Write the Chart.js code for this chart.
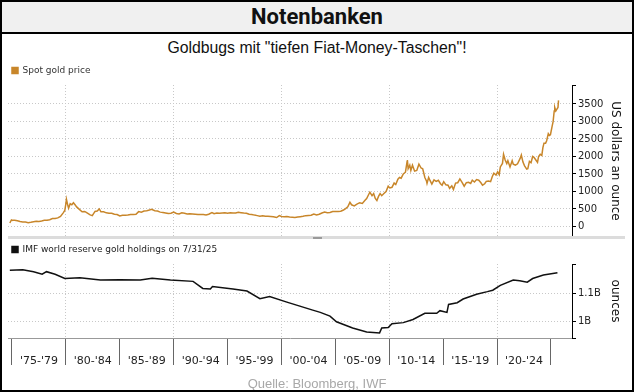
<!DOCTYPE html>
<html>
<head>
<meta charset="utf-8">
<script src="https://cdn.jsdelivr.net/npm/chart.js@4/dist/chart.umd.min.js"></script>
<style>
  html, body { margin: 0; padding: 0; background: #fff; }
  #wrap { position: relative; width: 634px; height: 392px; overflow: hidden; background: #fff; }
  #frame { position: absolute; left: 0; top: 0; width: 634px; height: 392px; box-sizing: border-box; border: 2px solid #000; pointer-events: none; z-index: 10; }
  #titlebar { position: absolute; left: 0; top: 0; width: 634px; height: 34px; box-sizing: border-box; background: #f0f0f0; border-bottom: 2px solid #000; text-align: center; font: bold 22px Roboto, "Liberation Sans", sans-serif; line-height: 33px; color: #111; }
  #subtitle { position: absolute; left: 0; top: 39px; width: 634px; text-align: center; font: 15.8px "Liberation Sans", Arial, sans-serif; color: #111; line-height: 18px; }
  #c1 { position: absolute; left: 0; top: 62px; }
  #c2 { position: absolute; left: 0; top: 241px; }
  #sep { position: absolute; left: 8px; top: 236px; width: 617px; height: 3px; background: #dcdcdc; }
  #handle { position: absolute; left: 313px; top: 237px; width: 9px; height: 2px; background: #9a9a9a; }
  #footer { position: absolute; left: 0; top: 376px; width: 634px; text-align: center; font: 13px "Liberation Sans", Arial, sans-serif; color: #a8a8a8; line-height: 16px; }
</style>
</head>
<body>
<div id="wrap">
  <div id="titlebar">Notenbanken</div>
  <div id="subtitle">Goldbugs mit "tiefen Fiat-Money-Taschen"!</div>
  <canvas id="c1" width="634" height="176"></canvas>
  <div id="sep"></div><div id="handle"></div>
  <canvas id="c2" width="634" height="131"></canvas>
  <div id="footer">Quelle: Bloomberg, IWF</div>
  <div id="frame"></div>
</div>
<script>
// ---------- data ----------
const goldYears = [
  1974.8, 1974.95, 1975.0, 1975.25, 1975.5, 1975.75, 1976.0, 1976.25, 1976.5, 1976.75,
  1977.0, 1977.25, 1977.5, 1977.75, 1978.0, 1978.25, 1978.5, 1978.75, 1979.0, 1979.25,
  1979.5, 1979.75, 1979.9, 1980.0, 1980.05, 1980.15, 1980.25, 1980.4, 1980.55, 1980.7,
  1980.85, 1981.0, 1981.25, 1981.5, 1981.75, 1982.0, 1982.25, 1982.45, 1982.7, 1982.9,
  1983.1, 1983.25, 1983.5, 1983.75, 1984.0, 1984.25, 1984.5, 1984.75, 1985.0, 1985.25,
  1985.5, 1985.75, 1986.0, 1986.25, 1986.5, 1986.75, 1987.0, 1987.25, 1987.5, 1987.75,
  1987.95, 1988.25, 1988.5, 1988.75, 1989.0, 1989.25, 1989.5, 1989.75, 1990.0, 1990.25,
  1990.5, 1990.75, 1991.0, 1991.25, 1991.5, 1991.75, 1992.0, 1992.25, 1992.5, 1992.75,
  1993.0, 1993.25, 1993.55, 1993.75, 1994.0, 1994.25, 1994.5, 1994.75, 1995.0, 1995.25,
  1995.5, 1995.75, 1996.0, 1996.25, 1996.5, 1996.75, 1997.0, 1997.25, 1997.5, 1997.75,
  1998.0, 1998.25, 1998.5, 1998.75, 1999.0, 1999.25, 1999.55, 1999.8, 2000.0, 2000.25,
  2000.5, 2000.75, 2001.0, 2001.25, 2001.5, 2001.75, 2002.0, 2002.25, 2002.5, 2002.75,
  2003.0, 2003.25, 2003.5, 2003.75, 2004.0, 2004.25, 2004.5, 2004.75, 2005.0, 2005.25,
  2005.5, 2005.75, 2005.95, 2006.15, 2006.35, 2006.5, 2006.75, 2007.0, 2007.25, 2007.5,
  2007.75, 2007.9, 2008.1, 2008.2, 2008.4, 2008.55, 2008.7, 2008.85, 2009.0, 2009.15,
  2009.3, 2009.5, 2009.7, 2009.9, 2010.05, 2010.25, 2010.45, 2010.6, 2010.8, 2010.95,
  2011.1, 2011.3, 2011.5, 2011.65, 2011.68, 2011.75, 2011.9, 2012.0, 2012.15, 2012.35,
  2012.55, 2012.75, 2012.95, 2013.1, 2013.3, 2013.45, 2013.5, 2013.65, 2013.8, 2013.95,
  2014.15, 2014.35, 2014.55, 2014.75, 2014.9, 2015.05, 2015.25, 2015.45, 2015.6, 2015.8,
  2015.95, 2016.15, 2016.35, 2016.55, 2016.75, 2016.95, 2017.15, 2017.35, 2017.55, 2017.7,
  2017.9, 2018.1, 2018.3, 2018.5, 2018.65, 2018.85, 2019.0, 2019.2, 2019.4, 2019.55,
  2019.7, 2019.9, 2020.05, 2020.2, 2020.3, 2020.5, 2020.6, 2020.75, 2020.9, 2021.0,
  2021.2, 2021.4, 2021.5, 2021.7, 2021.9, 2022.15, 2022.25, 2022.4, 2022.55, 2022.75,
  2022.85, 2023.0, 2023.15, 2023.3, 2023.4, 2023.55, 2023.75, 2023.85, 2024.0, 2024.15,
  2024.25, 2024.35, 2024.5, 2024.6, 2024.75, 2024.85, 2024.95, 2025.1, 2025.2, 2025.3,
  2025.35, 2025.45, 2025.55, 2025.65, 2025.7
];
const goldPrice = [
  100, 185, 180, 177, 166, 142, 131, 128, 110, 120,
  134, 148, 143, 158, 175, 180, 195, 225, 230, 245,
  290, 390, 460, 650, 780, 640, 520, 650, 620, 680,
  620, 560, 490, 420, 430, 380, 330, 310, 430, 440,
  500, 420, 420, 390, 380, 380, 350, 340, 300, 320,
  320, 325, 340, 340, 350, 425, 410, 440, 450, 470,
  490, 450, 440, 410, 400, 385, 370, 380, 410, 370,
  360, 390, 380, 360, 365, 360, 350, 340, 345, 340,
  330, 350, 400, 365, 385, 380, 385, 390, 380, 390,
  385, 385, 405, 395, 385, 380, 350, 345, 325, 310,
  295, 305, 290, 295, 288, 280, 256, 310, 285, 280,
  285, 270, 265, 260, 270, 280, 290, 310, 315, 320,
  355, 330, 350, 385, 410, 390, 400, 430, 425, 430,
  435, 470, 510, 560, 690, 620, 590, 640, 680, 660,
  750, 800, 920, 980, 880, 940, 800, 740, 860, 940,
  880, 940, 1000, 1150, 1100, 1120, 1240, 1200, 1350, 1400,
  1380, 1500, 1550, 1850, 1900, 1650, 1750, 1600, 1750, 1580,
  1600, 1780, 1670, 1650, 1400, 1300, 1230, 1400, 1300, 1210,
  1330, 1290, 1320, 1220, 1180, 1280, 1190, 1180, 1090, 1160,
  1060, 1240, 1250, 1360, 1260, 1150, 1250, 1260, 1230, 1320,
  1270, 1340, 1320, 1250, 1180, 1220, 1290, 1300, 1280, 1420,
  1520, 1470, 1560, 1480, 1700, 1800, 2060, 1900, 1800, 1880,
  1700, 1880, 1780, 1750, 1790, 1950, 2040, 1840, 1730, 1640,
  1650, 1860, 1820, 2000, 1980, 1920, 1830, 2000, 2060, 2030,
  2250, 2380, 2380, 2450, 2650, 2600, 2620, 2850, 3000, 3300,
  3400, 3300, 3350, 3400, 3600
];
const imfYears = [
  1974.8, 1976.0, 1977.0, 1977.8, 1978.2, 1979.0, 1979.9, 1981.3, 1983.2, 1985.0,
  1986.9, 1988.0, 1989.7, 1991.8, 1992.7, 1993.4, 1993.6, 1995.5, 1996.8, 1998.0,
  1998.9, 2000.5, 2002.9, 2003.6, 2004.5, 2005.1, 2006.6, 2007.9, 2009.1, 2009.3,
  2009.9, 2010.25, 2011.3, 2012.2, 2013.3, 2014.4, 2014.7, 2015.35, 2015.5, 2016.3,
  2016.85, 2018.1, 2019.1, 2019.6, 2020.3, 2021.5, 2022.1, 2022.8, 2023.3, 2024.3,
  2025.6
];
const imfOunces = [
  1.181, 1.183, 1.176, 1.167, 1.176, 1.167, 1.152, 1.155, 1.147, 1.148,
  1.147, 1.153, 1.147, 1.142, 1.117, 1.115, 1.124, 1.115, 1.108, 1.081,
  1.089, 1.069, 1.041, 1.033, 1.020, 1.000, 0.978, 0.964, 0.961, 0.978,
  0.980, 0.993, 0.997, 1.008, 1.030, 1.030, 1.039, 1.033, 1.061, 1.067,
  1.080, 1.097, 1.106, 1.111, 1.128, 1.147, 1.144, 1.139, 1.152, 1.164,
  1.172
];
const priceTicks = [0, 500, 1000, 1500, 2000, 2500, 3000, 3500];
const ounceTicks = [1.0, 1.1];
const ounceTickLabels = ['1B', '1.1B'];
const periodStarts = [1975, 1980, 1985, 1990, 1995, 2000, 2005, 2010, 2015, 2020, 2025];
const periodLabels = ["'75-'79", "'80-'84", "'85-'89", "'90-'94", "'95-'99", "'00-'04", "'05-'09", "'10-'14", "'15-'19", "'20-'24"];
const decadeLines = [1980, 1990, 2000, 2010, 2020];

// ---------- config ----------
const X_MIN = 1974.63, X_MAX = 2026.95;
const P_MIN = -300, P_MAX = 4040;
const O_MIN = 0.943, O_MAX = 1.203;
const GOLD = '#c8862a';
const GRID = '#c8c8c8';
const FONT = 'DejaVu Sans';
const CLEAR = 'rgba(0,0,0,0)';

Chart.defaults.font.family = FONT;

function noPad(s) { s.paddingTop = 0; s.paddingBottom = 0; s.paddingLeft = 0; s.paddingRight = 0; }

new Chart(document.getElementById('c1'), {
  type: 'line',
  data: {
    datasets: [{
      label: 'Spot gold price',
      data: goldYears.map((x, i) => ({ x, y: goldPrice[i] })),
      borderColor: GOLD, backgroundColor: GOLD,
      borderWidth: 1.5, pointRadius: 0, tension: 0
    }]
  },
  options: {
    animation: false, responsive: false, maintainAspectRatio: false,
    layout: { padding: { left: 8, right: 0, top: 0, bottom: 1 } },
    plugins: {
      legend: { position: 'top', align: 'start',
        labels: { boxWidth: 6, boxHeight: 6, padding: 4, color: '#333', font: { family: FONT, size: 9 } } },
      tooltip: { enabled: false }
    },
    scales: {
      x: {
        type: 'linear', min: X_MIN, max: X_MAX,
        afterBuildTicks: s => { s.ticks = decadeLines.map(v => ({ value: v })); },
        ticks: { display: false },
        grid: { color: GRID, drawTicks: false },
        border: { display: false, dash: [1, 2] },
        afterFit: s => { s.height = 0; noPad(s); }
      },
      y: {
        position: 'right', min: P_MIN, max: P_MAX,
        afterBuildTicks: s => { s.ticks = [P_MIN, ...priceTicks, P_MAX].map(v => ({ value: v })); },
        ticks: {
          padding: 2, color: '#222', font: { family: FONT, size: 10 },
          callback: v => priceTicks.includes(v) ? String(v) : ''
        },
        grid: {
          color: c => (c.tick && priceTicks.includes(c.tick.value)) ? GRID : CLEAR,
          tickColor: '#000', tickLength: 4, tickBorderDash: []
        },
        border: { display: true, color: '#000', dash: [1, 2] },
        title: { display: true, text: 'US dollars an ounce', color: '#111',
          font: { family: FONT, size: 12 }, padding: { top: 12, bottom: 0 } },
        afterFit: s => { s.width = 62; noPad(s); }
      }
    }
  }
});

const xTicks2 = [];
periodStarts.forEach((v, i) => { xTicks2.push(v); if (i < periodLabels.length) xTicks2.push(v + 2.5); });

new Chart(document.getElementById('c2'), {
  type: 'line',
  data: {
    datasets: [{
      label: 'IMF world reserve gold holdings on 7/31/25',
      data: imfYears.map((x, i) => ({ x, y: imfOunces[i] })),
      borderColor: '#111', backgroundColor: '#111',
      borderWidth: 1.5, pointRadius: 0, tension: 0
    }]
  },
  options: {
    animation: false, responsive: false, maintainAspectRatio: false,
    layout: { padding: { left: 8, right: 0, top: 0, bottom: 4 } },
    plugins: {
      legend: { position: 'top', align: 'start',
        labels: { boxWidth: 6, boxHeight: 6, padding: 4, color: '#222', font: { family: FONT, size: 9 } } },
      tooltip: { enabled: false }
    },
    scales: {
      x: {
        type: 'linear', min: X_MIN, max: X_MAX,
        afterBuildTicks: s => { s.ticks = xTicks2.map(v => ({ value: v })); },
        ticks: {
          autoSkip: false, maxRotation: 0, padding: -10, color: '#222', font: { family: FONT, size: 11 },
          callback: v => { const i = periodStarts.indexOf(v - 2.5); return i >= 0 ? periodLabels[i] : ''; }
        },
        grid: {
          color: c => (c.tick && decadeLines.includes(c.tick.value)) ? GRID : CLEAR,
          tickColor: c => (c.tick && periodStarts.includes(c.tick.value)) ? '#666' : CLEAR,
          tickLength: 27, tickBorderDash: []
        },
        border: { display: true, color: '#999', dash: [1, 2] },
        afterFit: s => { s.height = 30; noPad(s); }
      },
      y: {
        position: 'right', min: O_MIN, max: O_MAX,
        afterBuildTicks: s => { s.ticks = [O_MIN, ...ounceTicks, O_MAX].map(v => ({ value: v })); },
        ticks: {
          padding: 2, color: '#222', font: { family: FONT, size: 10 },
          callback: v => { const i = ounceTicks.indexOf(v); return i >= 0 ? ounceTickLabels[i] : ''; }
        },
        grid: {
          color: c => (c.tick && ounceTicks.includes(c.tick.value)) ? GRID : CLEAR,
          tickColor: '#000', tickLength: 4, tickBorderDash: []
        },
        border: { display: true, color: '#000', dash: [1, 2] },
        title: { display: true, text: 'ounces', color: '#111',
          font: { family: FONT, size: 12 }, padding: { top: 12, bottom: 0 } },
        afterFit: s => { s.width = 62; noPad(s); }
      }
    }
  }
});
</script>
</body>
</html>
